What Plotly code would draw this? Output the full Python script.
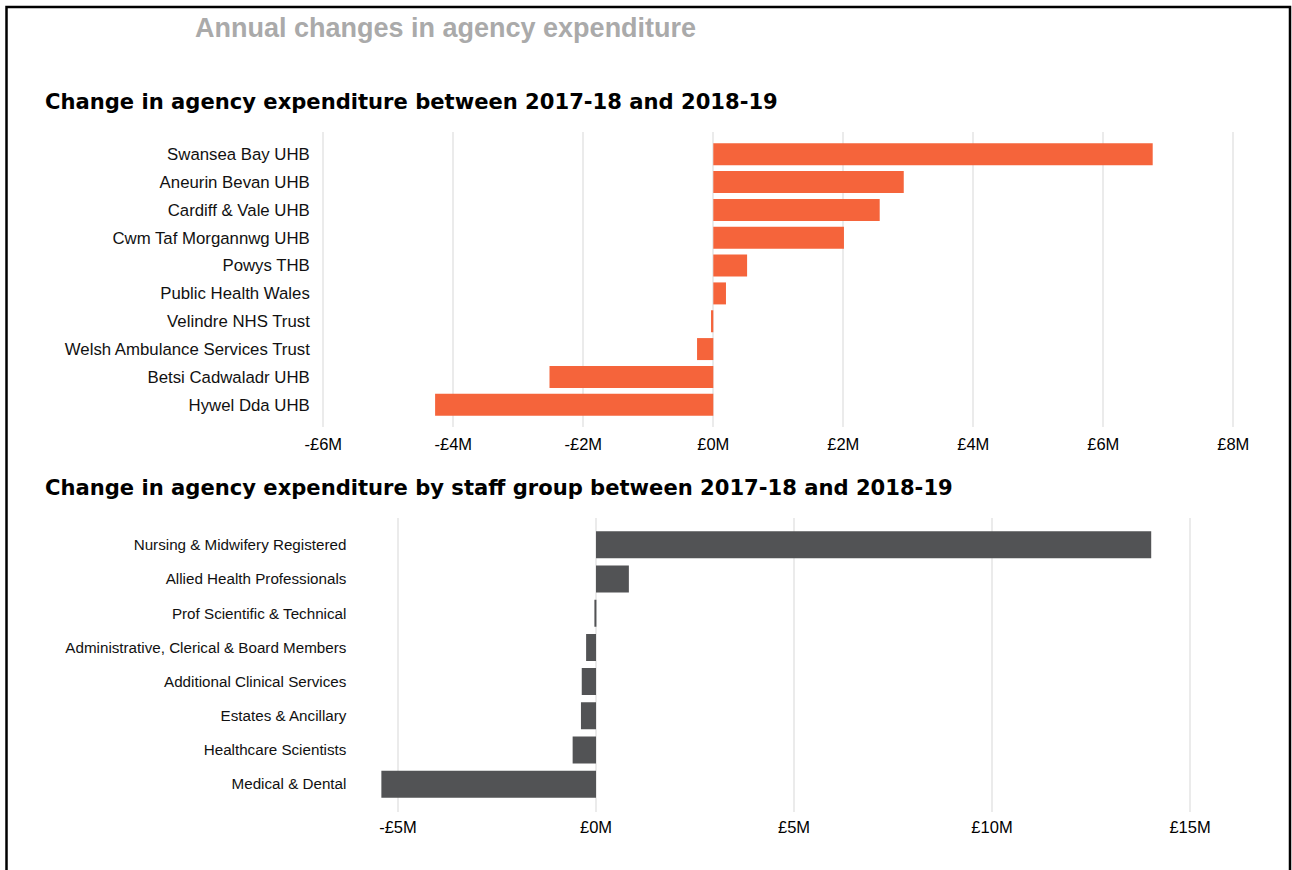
import plotly.graph_objects as go

# ---- data ----
boards = [
    "Swansea Bay UHB", "Aneurin Bevan UHB", "Cardiff & Vale UHB",
    "Cwm Taf Morgannwg UHB", "Powys THB", "Public Health Wales",
    "Velindre NHS Trust", "Welsh Ambulance Services Trust",
    "Betsi Cadwaladr UHB", "Hywel Dda UHB",
]
board_change = [6.76e6, 2.93e6, 2.56e6, 2.01e6, 0.52e6, 0.195e6,
                -0.035e6, -0.25e6, -2.52e6, -4.28e6]

staff_groups = [
    "Nursing & Midwifery Registered", "Allied Health Professionals",
    "Prof Scientific & Technical", "Administrative, Clerical & Board Members",
    "Additional Clinical Services", "Estates & Ancillary",
    "Healthcare Scientists", "Medical & Dental",
]
staff_change = [14.02e6, 0.83e6, -0.03e6, -0.25e6, -0.36e6, -0.38e6,
                -0.59e6, -5.42e6]

top_tickvals = [-6e6, -4e6, -2e6, 0, 2e6, 4e6, 6e6, 8e6]
top_ticktext = ["-£6M", "-£4M", "-£2M", "£0M", "£2M", "£4M", "£6M", "£8M"]
bot_tickvals = [-5e6, 0, 5e6, 10e6, 15e6]
bot_ticktext = ["-£5M", "£0M", "£5M", "£10M", "£15M"]

main_title = "Annual changes in agency expenditure"
title_top = "Change in agency expenditure between 2017-18 and 2018-19"
title_bottom = "Change in agency expenditure by staff group between 2017-18 and 2018-19"

W, H = 1292, 870
ORANGE = "#F5643B"
GREY = "#525355"
GRID = "#EBEBEB"
FONT = "Liberation Sans, Arial, sans-serif"

fig = go.Figure()
fig.add_trace(go.Bar(x=board_change, y=boards, orientation="h",
                     marker=dict(color=ORANGE, line=dict(width=0)),
                     xaxis="x", yaxis="y", showlegend=False))
fig.add_trace(go.Bar(x=staff_change, y=staff_groups, orientation="h",
                     marker=dict(color=GREY, line=dict(width=0)),
                     xaxis="x2", yaxis="y2", showlegend=False))

def px_x(p):
    return p / W

def px_y(p):
    return 1 - p / H

fig.update_layout(
    width=W, height=H, autosize=False,
    margin=dict(l=0, r=0, t=0, b=0, pad=0),
    paper_bgcolor="white", plot_bgcolor="white",
    bargap=0.21,
    font=dict(family=FONT, color="#000000"),
    xaxis=dict(domain=[px_x(316.8), px_x(1239.8)], range=[-6.1e6, 8.1e6],
               anchor="y", tickvals=top_tickvals, ticktext=top_ticktext,
               showgrid=True, gridcolor=GRID, gridwidth=1.5, zeroline=False,
               showline=False, ticks="", tickfont=dict(size=16.5, color="#000"),
               ticklabelstandoff=5, automargin=False),
    yaxis=dict(domain=[px_y(427), px_y(132)], range=[9.8, -0.8],
               anchor="x", type="category", showgrid=False, zeroline=False,
               showline=False, ticks="", tickfont=dict(size=16.8, color="#111"),
               ticklabelstandoff=6, automargin=False),
    xaxis2=dict(domain=[px_x(358.4), px_x(1241.5)], range=[-6.0e6, 16.3e6],
                anchor="y2", tickvals=bot_tickvals, ticktext=bot_ticktext,
                showgrid=True, gridcolor=GRID, gridwidth=1.5, zeroline=False,
                showline=False, ticks="", tickfont=dict(size=16.5, color="#000"),
                ticklabelstandoff=4, automargin=False),
    yaxis2=dict(domain=[px_y(811.5), px_y(517.5)], range=[7.8, -0.8],
                anchor="x2", type="category", showgrid=False, zeroline=False,
                showline=False, ticks="", tickfont=dict(size=15.2, color="#111"),
                ticklabelstandoff=11, automargin=False),
    annotations=[
        dict(text=f"<b>{main_title}</b>", x=px_x(445), y=px_y(28),
             xref="paper", yref="paper", xanchor="center", yanchor="middle",
             showarrow=False, font=dict(family=FONT, size=27, color="#AAAAAA")),
        dict(text=f"<b>{title_top}</b>", x=px_x(43), y=px_y(101),
             xref="paper", yref="paper", xanchor="left", yanchor="middle",
             showarrow=False, font=dict(family="DejaVu Sans", size=21.1, color="#000")),
        dict(text=f"<b>{title_bottom}</b>", x=px_x(43), y=px_y(487),
             xref="paper", yref="paper", xanchor="left", yanchor="middle",
             showarrow=False, font=dict(family="DejaVu Sans", size=21.1, color="#000")),
    ],
    shapes=[
        dict(type="rect", xref="paper", yref="paper",
             x0=px_x(6.5), x1=px_x(1290), y0=px_y(880), y1=px_y(7),
             line=dict(color="#000000", width=2.5), fillcolor="rgba(0,0,0,0)",
             layer="above"),
    ],
)

fig.write_html("out.html", config={"displayModeBar": False})
